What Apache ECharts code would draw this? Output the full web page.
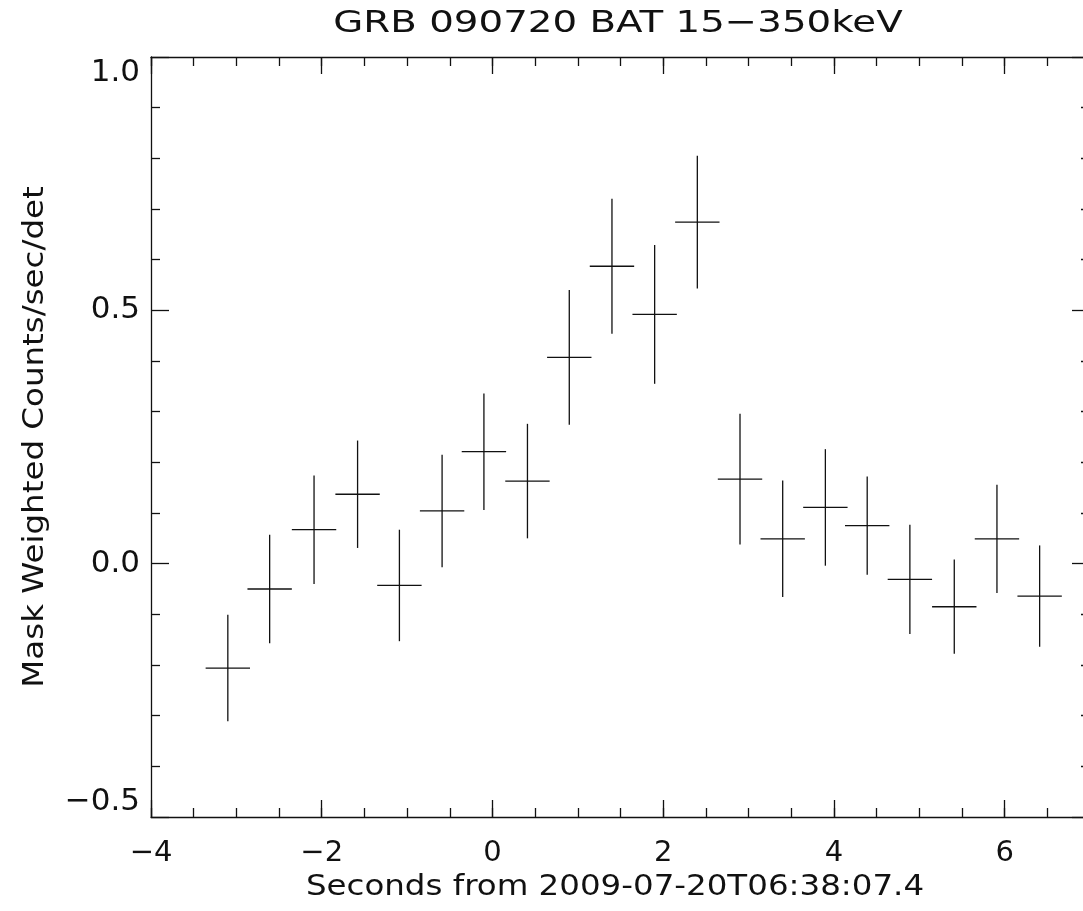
<!DOCTYPE html>
<html>
<head>
<meta charset="utf-8">
<title>GRB 090720 BAT</title>
<script src="https://cdn.jsdelivr.net/npm/echarts@6/dist/echarts.min.js"></script>
<style>
    html, body { margin: 0; padding: 0; background: #fff; }
    #chart { width: 1083px; height: 911px; }
</style>
</head>
<body>
<div id="chart"></div>
<script>
    // bin centres (s), rate and 1-sigma error
    var binTimes = [-3.10, -2.61, -2.09, -1.58, -1.09, -0.59, -0.10, 0.41, 0.90, 1.40,
                    1.90, 2.40, 2.90, 3.40, 3.90, 4.39, 4.89, 5.41, 5.91, 6.41];
    var rates = [-0.206, -0.050, 0.067, 0.137, -0.043, 0.104, 0.221, 0.163, 0.407, 0.587,
                 0.492, 0.674, 0.167, 0.049, 0.111, 0.075, -0.031, -0.085, 0.049, -0.064];
    var rateErrors = [0.105, 0.107, 0.107, 0.106, 0.110, 0.111, 0.115, 0.113, 0.133, 0.133,
                      0.137, 0.131, 0.129, 0.115, 0.115, 0.097, 0.108, 0.093, 0.107, 0.100];
    var binHalfWidth = 0.26;

    var xTicks = [-4, -2, 0, 2, 4, 6];

    var titleText = 'GRB 090720 BAT 15\u2212350keV';
    var xTitle = 'Seconds from 2009-07-20T06:38:07.4';
    var yTitle = 'Mask Weighted Counts/sec/det';

    var FONT = '"DejaVu Sans", sans-serif';
    var INK = '#111';

    var points = [];
    for (var i = 0; i < binTimes.length; i++) {
        points.push([binTimes[i], rates[i], rateErrors[i]]);
    }

    function minus(s) {
        return String(s).replace('-', '\u2212');
    }

    // error-bar crosses
    function renderCross(params, api) {
        var x = api.value(0), y = api.value(1), e = api.value(2);
        var left = api.coord([x - binHalfWidth, y]);
        var right = api.coord([x + binHalfWidth, y]);
        var top = api.coord([x, y + e]);
        var bottom = api.coord([x, y - e]);
        var style = {stroke: INK, lineWidth: 1.3};
        return {
            type: 'group',
            children: [
                {type: 'line', shape: {x1: left[0], y1: left[1], x2: right[0], y2: right[1]}, style: style},
                {type: 'line', shape: {x1: top[0], y1: top[1], x2: bottom[0], y2: bottom[1]}, style: style}
            ]
        };
    }

    function xAxisOf(position, major) {
        return {
            type: 'value',
            position: position,
            min: -4,
            max: 7,
            interval: major ? 2 : 0.5,
            splitLine: {show: false},
            axisLine: {show: major, onZero: false, lineStyle: {color: INK, width: 1.3}},
            axisTick: {show: true, inside: true, length: major ? 17 : 9, lineStyle: {color: INK, width: 1.3}},
            axisLabel: {
                show: major && position === 'bottom',
                fontFamily: FONT,
                fontSize: 29,
                color: INK,
                margin: 22,
                formatter: function (v) {
                    return xTicks.indexOf(v) >= 0 ? minus(v) : '';
                }
            }
        };
    }

    function yAxisOf(position) {
        var isLeft = position === 'left';
        return {
            type: 'value',
            position: position,
            min: -0.5,
            max: 1.0,
            interval: 0.5,
            splitLine: {show: false},
            axisLine: {show: true, onZero: false, lineStyle: {color: INK, width: 1.3}},
            axisTick: {show: true, inside: true, length: 18, lineStyle: {color: INK, width: 1.3}},
            minorTick: {show: true, splitNumber: 5, length: 9, lineStyle: {color: INK, width: 1.3}},
            axisLabel: {
                show: isLeft,
                fontFamily: FONT,
                fontSize: 31,
                color: INK,
                margin: 11,
                verticalAlignMinLabel: 'bottom',
                verticalAlignMaxLabel: 'top',
                formatter: function (v) {
                    return minus(v.toFixed(1));
                }
            }
        };
    }

    function label(text, x, y, size, stretch, rotation) {
        return {
            type: 'text',
            x: x,
            y: y,
            rotation: rotation || 0,
            scaleX: stretch,
            style: {
                text: text,
                fontFamily: FONT,
                fontSize: size,
                fill: INK,
                align: 'center',
                verticalAlign: 'middle',
                textAlign: 'center',
                textVerticalAlign: 'middle'
            }
        };
    }

    var chart = echarts.init(document.getElementById('chart'), null, {renderer: 'canvas'});

    var option = {
        backgroundColor: '#fff',
        animation: false,
        grid: {left: 151, top: 57, right: -7, bottom: 94, containLabel: false, outerBoundsMode: 'none'},
        graphic: [
            label(titleText, 618, 24, 31, 1.25, 0),
            label(xTitle, 615, 887, 29, 1.12, 0),
            label(yTitle, 35, 437, 29, 1.12, Math.PI / 2)
        ],
        xAxis: [
            xAxisOf('bottom', true),
            xAxisOf('bottom', false),
            xAxisOf('top', true),
            xAxisOf('top', false)
        ],
        yAxis: [
            yAxisOf('left'),
            yAxisOf('right')
        ],
        series: [{
            type: 'custom',
            xAxisIndex: 0,
            yAxisIndex: 0,
            renderItem: renderCross,
            encode: {x: 0, y: [1]},
            data: points,
            clip: true
        }]
    };

    chart.setOption(option);
</script>
</body>
</html>
